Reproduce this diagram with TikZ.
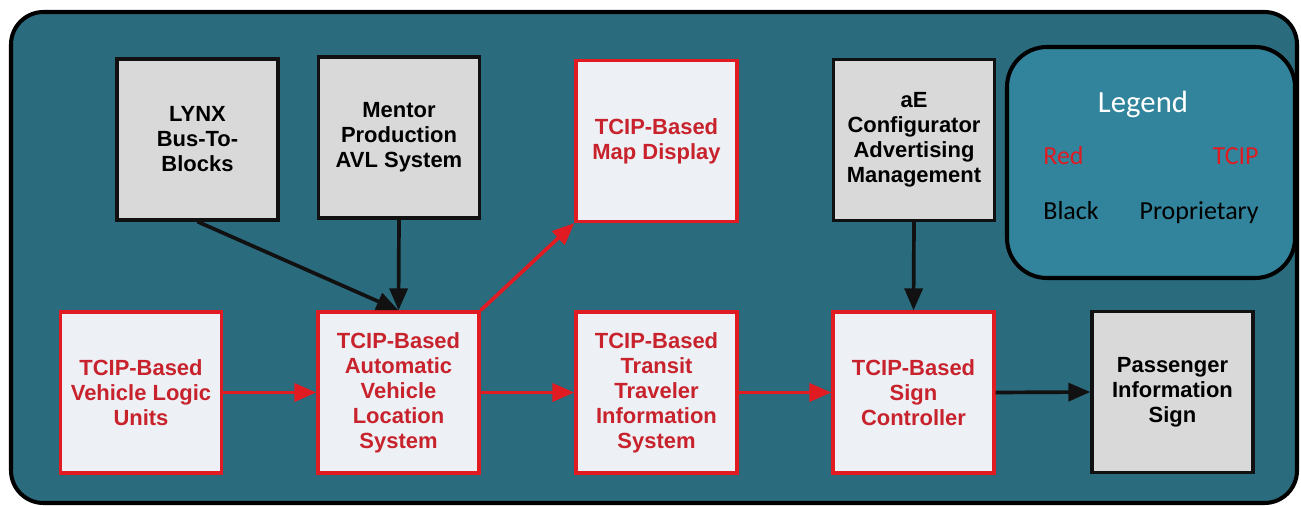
\documentclass[tikz,border=0pt]{standalone}
\usepackage{fontspec}
\setmainfont{Liberation Sans}
\newfontfamily\legendfont{Carlito}
\usetikzlibrary{arrows.meta}

\definecolor{panel}{HTML}{2A6B7D}
\definecolor{legendfill}{HTML}{31849B}
\definecolor{tcipred}{HTML}{E01B22}
\definecolor{tciptext}{HTML}{C8232C}
\definecolor{tcipfill}{HTML}{EDF0F5}
\definecolor{propfill}{HTML}{D9D9D9}
\definecolor{propline}{HTML}{111111}

\tikzset{
  blockbase/.style={rectangle, minimum width=3.22cm, minimum height=3.22cm,
    line width=1.9pt, align=center,
    font=\fontsize{12.5}{14.2}\selectfont\bfseries},
  tcipbox/.style={blockbase, draw=tcipred, fill=tcipfill, text=tciptext},
  propbox/.style={blockbase, draw=propline, fill=propfill, text=black},
  redflow/.style={draw=tcipred, line width=2.1pt,
    -{Triangle[length=0.44cm,width=0.36cm]}},
  blackflow/.style={draw=propline, line width=2.1pt,
    -{Triangle[length=0.44cm,width=0.36cm]}},
  legendtext/.style={font=\legendfont\fontsize{14.8}{17}\selectfont, inner sep=0pt}
}

\begin{document}
\begin{tikzpicture}[x=0.02cm, y=-0.02cm]
  \useasboundingbox (0,0) rectangle (1301,506);

  % outer panel
  \draw[line width=2.3pt, fill=panel, rounded corners=0.65cm] (11,12) rectangle (1297,503);

  % legend panel
  \draw[line width=2.3pt, fill=legendfill, rounded corners=0.8cm] (1007,47) rectangle (1295,278);
  \node[font=\legendfont\fontsize{17.5}{20}\selectfont, text=white, inner sep=0pt] (legtitle) at (1143,104) {Legend};
  \node[legendtext, text=tcipred, anchor=base west] (legred) at (1043,165) {Red};
  \node[legendtext, text=tcipred, anchor=base east] (legtcip) at (1259,165) {TCIP};
  \node[legendtext, text=black, anchor=base west] (legblack) at (1043,220) {Black};
  \node[legendtext, text=black, anchor=base east] (legprop) at (1259,220) {Proprietary};

  % top row
  \node[propbox] (lynx) at (197.5,139.5) {LYNX\\Bus-To-\\Blocks};
  \node[propbox] (mentor) at (399,137.5) {Mentor\\Production\\AVL System};
  \node[tcipbox] (map) at (656.5,141) {TCIP-Based\\Map Display};
  \node[propbox] (aec) at (914,140) {aE\\Configurator\\Advertising\\Management};

  % bottom row
  \node[tcipbox] (vlu) at (141,392.5) {TCIP-Based\\Vehicle Logic\\Units};
  \node[tcipbox] (avl) at (398.5,392.5) {TCIP-Based\\Automatic\\Vehicle\\Location\\System};
  \node[tcipbox] (ttis) at (656.5,392.5) {TCIP-Based\\Transit\\Traveler\\Information\\System};
  \node[tcipbox] (sc) at (913.5,392.5) {TCIP-Based\\Sign\\Controller};
  \node[propbox] (pis) at (1172.5,392) {Passenger\\Information\\Sign};

  % connectors
  \draw[blackflow] (lynx.south) -- (avl.north);
  \draw[blackflow] (mentor.south) -- (avl.north);
  \draw[redflow] (avl.north east) -- (map.south west);
  \draw[redflow] (vlu.east) -- (avl.west);
  \draw[redflow] (avl.east) -- (ttis.west);
  \draw[redflow] (ttis.east) -- (sc.west);
  \draw[blackflow] (aec.south) -- (sc.north);
  \draw[blackflow] (sc.east) -- (pis.west);
\end{tikzpicture}
\end{document}
